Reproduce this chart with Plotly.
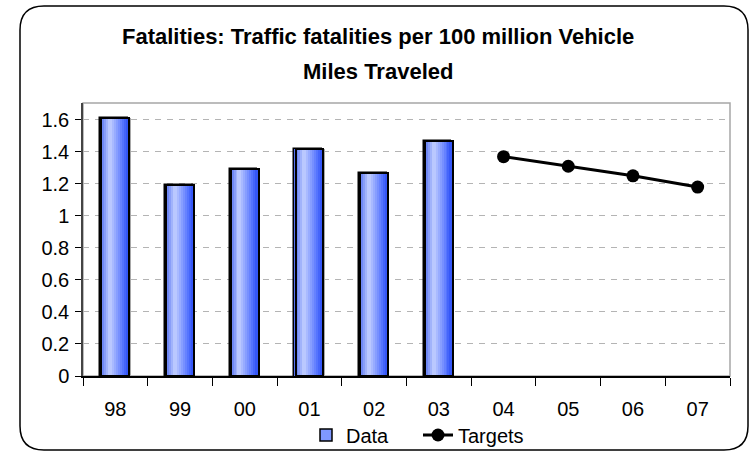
import plotly.graph_objects as go

# --- chart data -------------------------------------------------------------
years = ["98", "99", "00", "01", "02", "03", "04", "05", "06", "07"]
data_years = ["98", "99", "00", "01", "02", "03"]
data_values = [1.61, 1.19, 1.29, 1.42, 1.27, 1.47]
target_years = ["04", "05", "06", "07"]
target_values = [1.37, 1.31, 1.25, 1.18]
y_tick_values = [0, 0.2, 0.4, 0.6, 0.8, 1.0, 1.2, 1.4, 1.6]
y_tick_labels = ["0", "0.2", "0.4", "0.6", "0.8", "1", "1.2", "1.4", "1.6"]

title_line1 = "Fatalities: Traffic fatalities per 100 million Vehicle"
title_line2 = "Miles Traveled"

# --- page geometry (pixels) -------------------------------------------------
W, H = 755, 452
L, R, T, B = 83, 25, 103, 76
PW, PH = W - L - R, H - T - B

FONT = "Liberation Sans, Arial, sans-serif"


def px(x):
    return (x - L) / PW


def py(y):
    return (H - B - y) / PH


# --- bar styling: horizontal cylinder-like shading ---------------------------
BAR_W = 0.43
BAR_OFF = -0.235
N_SLICES = 14
stops = [(0.0, (75, 105, 240)), (0.35, (196, 208, 255)), (0.8, (90, 120, 255)), (1.0, (45, 80, 245))]


def shade(t):
    for (t0, c0), (t1, c1) in zip(stops[:-1], stops[1:]):
        if t0 <= t <= t1:
            f = (t - t0) / (t1 - t0)
            return "rgb(%d,%d,%d)" % tuple(round(a + (b - a) * f) for a, b in zip(c0, c1))
    return "rgb(%d,%d,%d)" % stops[-1][1]


fig = go.Figure()

# soft drop shadow
fig.add_trace(go.Bar(
    x=data_years, y=data_values, width=BAR_W, offset=BAR_OFF + 0.04,
    marker=dict(color="#a8a8a8", line=dict(width=0)),
    showlegend=False, hoverinfo="skip",
))

# base bar (legend entry)
fig.add_trace(go.Bar(
    x=data_years, y=data_values, width=BAR_W, offset=BAR_OFF, name="Data",
    marker=dict(color="#7f98ff", line=dict(color="black", width=1.5)),
))

# shading slices
sw = BAR_W / N_SLICES
for i in range(N_SLICES):
    fig.add_trace(go.Bar(
        x=data_years, y=data_values, width=sw * 1.15, offset=BAR_OFF + i * sw,
        marker=dict(color=shade((i + 0.5) / N_SLICES), line=dict(width=0)),
        showlegend=False, hoverinfo="skip",
    ))

# dark outline, nudged right
fig.add_trace(go.Bar(
    x=data_years, y=data_values, width=BAR_W, offset=BAR_OFF + 0.02,
    marker=dict(color="rgba(0,0,0,0)", line=dict(color="black", width=2)),
    showlegend=False, hoverinfo="skip",
))

# targets
fig.add_trace(go.Scatter(
    x=target_years, y=target_values, name="Targets", mode="lines+markers",
    line=dict(color="black", width=3),
    marker=dict(color="black", size=13),
))

shapes = [
    # plot-area border
    dict(type="rect", xref="paper", yref="paper", x0=0, x1=1, y0=0, y1=1,
         line=dict(color="#a6a6a6", width=1.5), layer="below"),
]

# rounded outer frame
x0, x1, y0, y1, r = 20, 748, 6, 450, 24
path = (
    f"M {px(x0 + r)},{py(y0)} L {px(x1 - r)},{py(y0)} "
    f"Q {px(x1)},{py(y0)} {px(x1)},{py(y0 + r)} "
    f"L {px(x1)},{py(y1 - r)} Q {px(x1)},{py(y1)} {px(x1 - r)},{py(y1)} "
    f"L {px(x0 + r)},{py(y1)} Q {px(x0)},{py(y1)} {px(x0)},{py(y1 - r)} "
    f"L {px(x0)},{py(y0 + r)} Q {px(x0)},{py(y0)} {px(x0 + r)},{py(y0)} Z"
)
shapes.append(dict(type="path", xref="paper", yref="paper", path=path,
                   line=dict(color="black", width=1.5), layer="below"))

annotations = [
    dict(text="<b>%s</b>" % title_line1, xref="paper", yref="paper",
         x=px(378), y=py(37), xanchor="center", yanchor="middle", showarrow=False,
         font=dict(family=FONT, size=22, color="black")),
    dict(text="<b>%s</b>" % title_line2, xref="paper", yref="paper",
         x=px(378), y=py(72), xanchor="center", yanchor="middle", showarrow=False,
         font=dict(family=FONT, size=22, color="black")),
]

fig.update_layout(
    width=W, height=H,
    margin=dict(l=L, r=R, t=T, b=B, pad=0, autoexpand=False),
    paper_bgcolor="white", plot_bgcolor="white",
    barmode="overlay", bargap=0,
    font=dict(family=FONT, size=20, color="black"),
    showlegend=True,
    legend=dict(orientation="h", x=px(306), xanchor="left", y=py(435), yanchor="middle",
                font=dict(family=FONT, size=20, color="black"),
                bgcolor="rgba(0,0,0,0)", itemwidth=30, tracegroupgap=0,
                entrywidth=67, entrywidthmode="pixels"),
    shapes=shapes,
    annotations=annotations,
    xaxis=dict(
        type="category", categoryorder="array", categoryarray=years,
        range=[-0.5, len(years) - 0.5], tickson="boundaries",
        ticks="outside", ticklen=8, tickcolor="black", tickwidth=1,
        showline=True, linecolor="black", linewidth=1.5, automargin=False,
        showgrid=False, tickfont=dict(size=20), ticklabelstandoff=14,
    ),
    yaxis=dict(
        range=[0, 1.705], tickvals=y_tick_values, ticktext=y_tick_labels,
        ticks="outside", ticklen=6, tickcolor="black", tickwidth=1,
        showline=True, linecolor="#444444", linewidth=1.5, automargin=False,
        showgrid=True, gridcolor="#b4b4b4", gridwidth=1, griddash="6px,6px",
        zeroline=False, tickfont=dict(size=20), ticklabelstandoff=2,
    ),
)

fig.write_html("out.html")
